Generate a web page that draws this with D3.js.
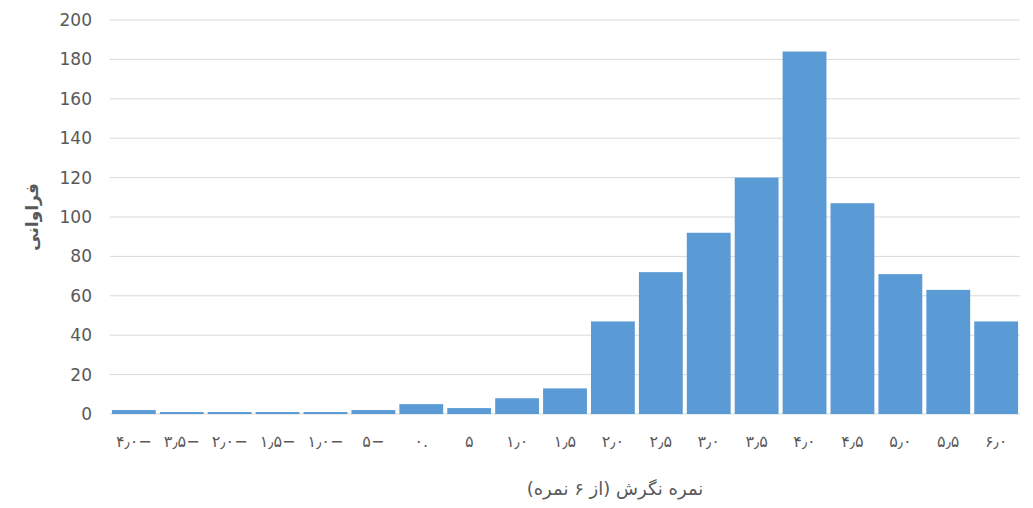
<!DOCTYPE html>
<html><head><meta charset="utf-8">
<script src="https://cdn.jsdelivr.net/npm/d3@7"></script>
<style>body{margin:0;background:#fff}text{font-family:"DejaVu Sans",sans-serif}</style>
</head><body><div id="chart"></div>
<script>
// داده‌ها
const categories = ["۴٫۰−","۳٫۵−","۲٫۰−","۱٫۵−","۱٫۰−","۵−","۰.","۵","۱٫۰","۱٫۵","۲٫۰","۲٫۵","۳٫۰","۳٫۵","۴٫۰","۴٫۵","۵٫۰","۵٫۵","۶٫۰"];
const values = [2,1,1,1,1,2,5,3,8,13,47,72,92,120,184,107,71,63,47];
const yTicks = [0,20,40,60,80,100,120,140,160,180,200];

const width = 1033, height = 508;
const m = {left:110, right:13, top:20, bottom:94};

const svg = d3.select('#chart').append('svg')
    .attr('width',width).attr('height',height);

const x = d3.scaleBand().domain(categories)
    .range([m.left, width-m.right]).paddingInner(0.085).paddingOuter(0.04);
const y = d3.scaleLinear().domain([0,200]).range([height-m.bottom, m.top]);

// خطوط شبکه
svg.append('g').selectAll('line').data(yTicks).join('line')
    .attr('x1',m.left).attr('x2',width-m.right)
    .attr('y1',d=>y(d)).attr('y2',d=>y(d))
    .attr('stroke','#d9d9d9');

svg.append('g').selectAll('text').data(yTicks).join('text')
    .attr('x',92).attr('y',d=>y(d)+6)
    .attr('text-anchor','end').attr('font-size',17).attr('fill','#595959')
    .text(d=>d);

svg.append('g').selectAll('rect').data(values).join('rect')
    .attr('x',(d,i)=>x(categories[i])).attr('width',x.bandwidth())
    .attr('y',d=>y(d)).attr('height',d=>y(0)-y(d))
    .attr('fill','#5b9bd5');

svg.append('g').selectAll('text').data(categories).join('text')
    .attr('x',d=>x(d)+x.bandwidth()/2).attr('y',447)
    .attr('text-anchor','middle').attr('font-size',16).attr('fill','#595959')
    .style('direction','ltr').style('unicode-bidi','bidi-override')
    .text(d=>d);

svg.append('text').attr('transform','translate(38,217) rotate(-90)')
    .attr('text-anchor','middle').attr('font-size',17).attr('font-weight','600').attr('fill','#595959')
    .text('فراوانی');

svg.append('text').attr('x',615).attr('y',495)
    .attr('text-anchor','middle').attr('font-size',18).attr('fill','#595959')
    .text('نمره نگرش (از ۶ نمره)');
</script></body></html>
